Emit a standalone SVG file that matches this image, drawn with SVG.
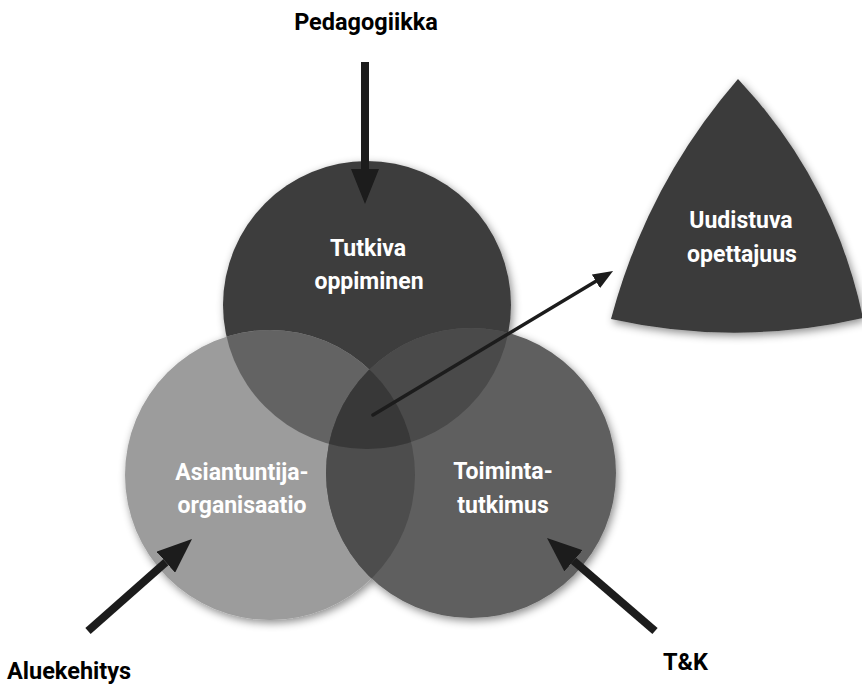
<svg xmlns="http://www.w3.org/2000/svg" width="862" height="684" viewBox="0 0 862 684">
  <defs>
    <style>
      .lbl { font-family: Roboto, "Liberation Sans", Arial, sans-serif; font-weight: bold; }
      .in { fill: #ffffff; text-anchor: middle; font-size: 23px; }
      .out { fill: #000000; font-size: 23.5px; }
      .thick { fill: none; stroke: #1c1c1c; stroke-width: 8; stroke-linecap: butt; marker-end: url(#bigHead); }
      .thin { fill: none; stroke: #1c1c1c; stroke-width: 3.5; stroke-linecap: round; marker-end: url(#smallHead); }
    </style>
    <filter id="shadow" x="-20%" y="-20%" width="140%" height="140%">
      <feDropShadow dx="2" dy="3" stdDeviation="4" flood-color="#000" flood-opacity="0.45"/>
    </filter>
    <marker id="bigHead" markerUnits="userSpaceOnUse" viewBox="0 0 35 28" refX="0" refY="14" markerWidth="35" markerHeight="28" orient="auto">
      <path d="M0,0 L35,14 L0,28 z" fill="#1c1c1c"/>
    </marker>
    <marker id="smallHead" markerUnits="userSpaceOnUse" viewBox="0 0 20 16" refX="0" refY="8" markerWidth="20" markerHeight="16" orient="auto">
      <path d="M0,0 L20,8 L0,16 z" fill="#1c1c1c"/>
    </marker>
    <clipPath id="clipT"><circle cx="367" cy="305" r="144"/></clipPath>
    <clipPath id="clipL"><circle cx="270" cy="475" r="145"/></clipPath>
  </defs>

  <rect x="0" y="0" width="862" height="684" fill="#ffffff"/>

  <g id="circles" filter="url(#shadow)">
    <g id="node-tutkiva-shape"><circle cx="367" cy="305" r="144" fill="#3d3d3d"/></g>
    <g id="node-asiantuntija-shape"><circle cx="270" cy="475" r="145" fill="#9c9c9c"/></g>
    <g id="node-toiminta-shape"><circle cx="471" cy="473" r="145" fill="#5f5f5f"/></g>
  </g>

  <g id="overlaps">
    <circle cx="270" cy="475" r="145" fill="#636363" clip-path="url(#clipT)"/>
    <circle cx="471" cy="473" r="145" fill="#4d4d4d" clip-path="url(#clipL)"/>
    <circle cx="471" cy="473" r="145" fill="#4a4a4a" clip-path="url(#clipT)"/>
    <g clip-path="url(#clipT)">
      <circle cx="471" cy="473" r="145" fill="#383838" clip-path="url(#clipL)"/>
    </g>
  </g>

  <g id="node-uudistuva">
    <path d="M738,79 Q834,181 863,318 Q737,347 611,319 Q647,184 738,79 Z" fill="#3a3a3a" filter="url(#shadow)"/>
    <text class="lbl in" x="741" y="228">Uudistuva</text>
    <text class="lbl in" x="742" y="262">opettajuus</text>
  </g>

  <g id="node-tutkiva">
    <text class="lbl in" x="368" y="256">Tutkiva</text>
    <text class="lbl in" x="369" y="289">oppiminen</text>
  </g>

  <g id="node-asiantuntija">
    <text class="lbl in" x="242" y="480">Asiantuntija-</text>
    <text class="lbl in" x="242" y="513">organisaatio</text>
  </g>

  <g id="node-toiminta">
    <text class="lbl in" x="503" y="479">Toiminta-</text>
    <text class="lbl in" x="503" y="513">tutkimus</text>
  </g>

  <g id="connectors">
    <line class="thick" x1="365" y1="62" x2="365" y2="169"/>
    <line class="thick" x1="88" y1="631" x2="165.8" y2="562.2"/>
    <line class="thick" x1="655" y1="631" x2="573.5" y2="560.8"/>
    <line class="thin" x1="373" y1="415" x2="595.9" y2="281.3"/>
  </g>

  <g id="node-pedagogiikka">
    <text class="lbl out" x="366" y="30" text-anchor="middle">Pedagogiikka</text>
  </g>
  <g id="node-aluekehitys">
    <text class="lbl out" x="7" y="679">Aluekehitys</text>
  </g>
  <g id="node-tk">
    <text class="lbl out" x="663" y="670">T&amp;K</text>
  </g>
</svg>
